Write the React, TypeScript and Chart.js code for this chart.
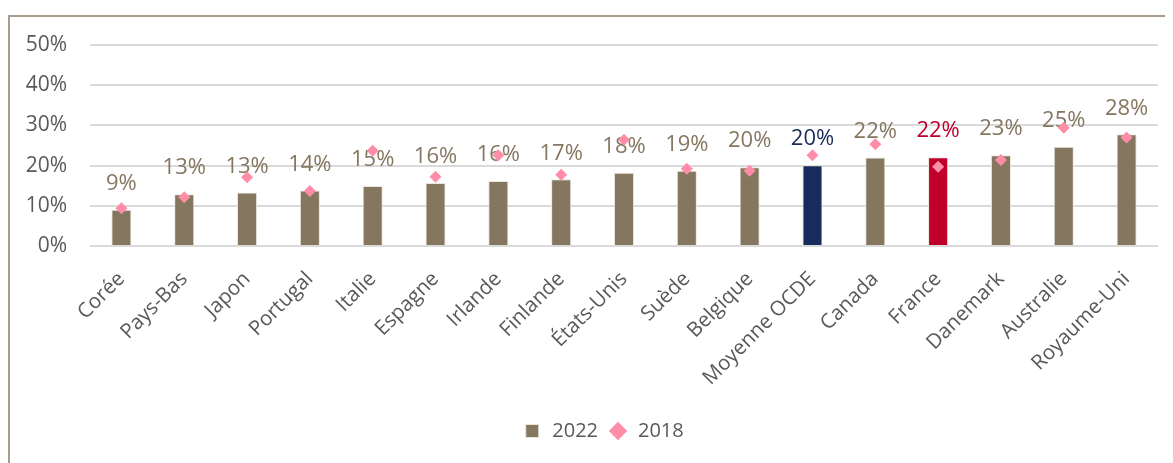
import React, { useEffect, useRef } from "react";
import { Chart, registerables } from "chart.js";

Chart.register(...registerables);

const categories = [
  "Corée", "Pays-Bas", "Japon", "Portugal", "Italie", "Espagne", "Irlande", "Finlande",
  "États-Unis", "Suède", "Belgique", "Moyenne OCDE", "Canada", "France", "Danemark",
  "Australie", "Royaume-Uni",
];
const values2022 = [9.0, 12.9, 13.3, 13.8, 14.9, 15.7, 16.2, 16.6, 18.2, 18.7, 19.6, 20.1, 22.0, 22.1, 22.6, 24.7, 27.8];
const values2018 = [9.4, 12.1, 17.1, 13.7, 23.7, 17.2, 22.6, 17.7, 26.4, 19.2, 18.7, 22.6, 25.3, 19.7, 21.4, 29.4, 27.0];
const yTickValues = [0, 10, 20, 30, 40, 50];

const BROWN = "#857660";
const NAVY = "#172C5C";
const RED = "#C0002B";
const PINK = "#FF8DA8";
const TEXT = "#595959";
const FONT = "'Open Sans', sans-serif";

const barColors = categories.map((c) => (c === "Moyenne OCDE" ? NAVY : c === "France" ? RED : BROWN));
const barLabels = values2022.map((v) => Math.round(v) + "%");

const labelPlugin = {
  id: "barLabels",
  afterDatasetDraw(chart: any, args: any) {
    if (args.index !== 0) return;
    const ctx = chart.ctx;
    const meta = chart.getDatasetMeta(0);
    ctx.save();
    ctx.font = `22px ${FONT}`;
    ctx.textAlign = "center";
    ctx.textBaseline = "middle";
    meta.data.forEach((bar: any, i: number) => {
      ctx.fillStyle = barColors[i];
      ctx.fillText(barLabels[i], bar.x, bar.y - 26);
    });
    ctx.restore();
  },
};

export default function App() {
  const ref = useRef<HTMLCanvasElement>(null);
  useEffect(() => {
    document.body.style.overflow = "hidden";
    const chart = new Chart(ref.current!, {
      type: "bar",
      data: {
        labels: categories,
        datasets: [
          {
            type: "bar",
            label: "2022",
            data: values2022,
            backgroundColor: barColors,
            borderColor: "#EDE6DD",
            borderWidth: 1,
            barPercentage: 0.32,
            categoryPercentage: 1,
            pointStyle: "rect",
            order: 2,
          },
          {
            type: "line",
            label: "2018",
            data: values2018,
            showLine: false,
            pointStyle: "rectRot",
            pointRadius: 6,
            pointBackgroundColor: PINK,
            pointBorderColor: PINK,
            pointBorderWidth: 0,
            backgroundColor: PINK,
            borderColor: PINK,
            borderWidth: 0,
            order: 1,
          },
        ] as any,
      },
      options: {
        animation: false,
        responsive: false,
        events: [],
        layout: { padding: { left: 0, right: 0, top: 28, bottom: 12 } },
        plugins: {
          tooltip: { enabled: false },
          legend: {
            position: "bottom",
            labels: {
              usePointStyle: true,
              boxHeight: 13,
              padding: 10,
              color: TEXT,
              font: { family: FONT, size: 20 },
              sort: (a: any, b: any) => a.datasetIndex - b.datasetIndex,
            },
          },
        },
        scales: {
          x: {
            grid: { display: false, drawTicks: false },
            border: { display: false },
            ticks: {
              color: TEXT,
              font: { family: FONT, size: 20.5 },
              minRotation: 45,
              maxRotation: 45,
              autoSkip: false,
              padding: 21,
            },
            afterFit: (s: any) => {
              s.height = 165;
            },
          },
          y: {
            min: 0,
            max: 50,
            grid: { color: "#DADADA", lineWidth: 2, drawTicks: false },
            border: { display: false },
            ticks: {
              color: TEXT,
              font: { family: FONT, size: 21 },
              padding: 23,
              stepSize: 10,
              callback: (v: any) => (yTickValues.includes(v) ? v + "%" : ""),
            },
            afterFit: (s: any) => {
              s.width = 80;
              s.paddingTop = 0;
              s.paddingBottom = 0;
            },
          },
          yRight: {
            position: "right",
            min: 0,
            max: 50,
            grid: { display: false, drawTicks: false },
            border: { display: false },
            ticks: { display: false },
            afterFit: (s: any) => {
              s.width = 38;
              s.paddingTop = 0;
              s.paddingBottom = 0;
            },
          },
        },
      },
      plugins: [labelPlugin],
    });
    return () => chart.destroy();
  }, []);

  return (
    <div
      style={{
        marginTop: 7,
        width: 1180,
        height: 460,
        overflow: "hidden",
        borderTop: "2px solid #A89C90",
        borderLeft: "2px solid #A89C90",
      }}
    >
      <canvas ref={ref} width={1186} height={446} style={{ display: "block" }} />
    </div>
  );
}
